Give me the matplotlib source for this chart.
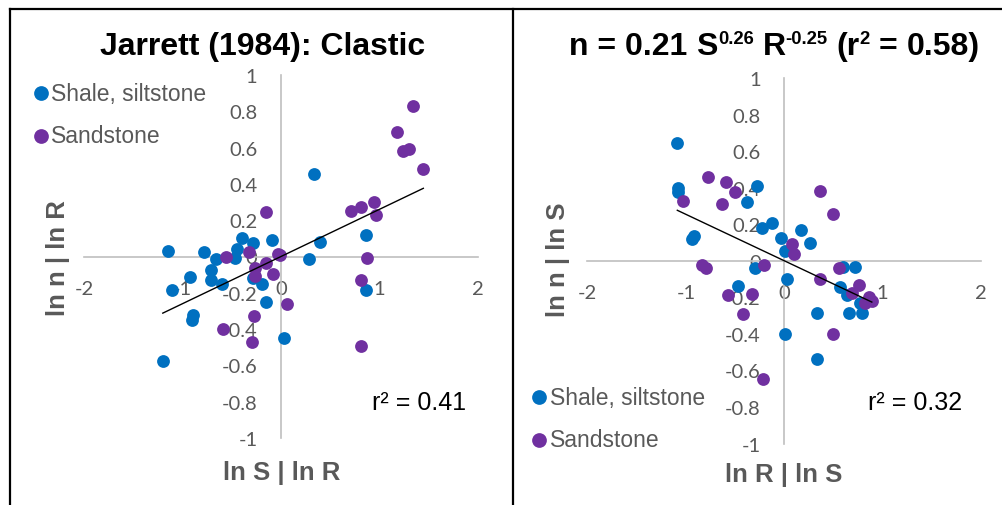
import numpy as np
import matplotlib.pyplot as plt
from matplotlib.lines import Line2D
from matplotlib.transforms import IdentityTransform

plt.rcParams['font.family'] = ['Liberation Sans', 'DejaVu Sans']

BLUE = '#0070C0'
PURPLE = '#7030A0'
GRAY = '#595959'

# left panel: ln n | ln R  vs  ln S | ln R
l_shale_x = [-1.15, -0.78, -0.66, -0.40, -0.28, -0.45, -0.47, -0.09, -0.71, -0.71,
             -0.60, -0.92, -1.11, -0.28, -0.19, -0.15, -0.89, -0.90, 0.28, 0.03,
             -1.20, 0.34, 0.40, 0.86, 0.86]
l_shale_y = [0.033, 0.024, -0.013, 0.103, 0.072, 0.042, -0.01, 0.09, -0.072, -0.132,
             -0.154, -0.114, -0.182, -0.121, -0.15, -0.248, -0.32, -0.35, -0.013, -0.448,
             -0.577, 0.455, 0.079, 0.116, -0.182]
l_sand_x = [1.34, 1.18, 1.235, 1.30, 1.445, 0.71, 0.81, 0.944, 0.96, 0.87,
            0.81, 0.81, 0.065, -0.01, -0.15, -0.56, -0.325, -0.03, -0.264, -0.152,
            -0.264, -0.078, -0.274, -0.59, -0.29]
l_sand_y = [0.828, 0.687, 0.584, 0.59, 0.483, 0.253, 0.272, 0.301, 0.231, -0.007,
            -0.127, -0.494, -0.264, 0.007, 0.244, -0.002, 0.024, 0.015, -0.062, -0.035,
            -0.105, -0.094, -0.329, -0.397, -0.472]
l_trend = (0.26, 0.0)

# right panel: ln n | ln S  vs  ln R | ln S
r_shale_x = [-1.087, -1.085, -1.085, -0.913, -0.934, -0.278, -0.38, -0.227, -0.125, -0.036,
             0.173, 0.265, 0.01, -0.295, 0.027, -0.475, 0.598, 0.723, 0.563, 0.638,
             0.774, 0.655, 0.79, 0.333, 0.01, 0.333]
r_shale_y = [0.644, 0.40, 0.377, 0.136, 0.118, 0.41, 0.324, 0.178, 0.204, 0.123,
             0.167, 0.096, 0.054, -0.037, -0.101, -0.138, -0.032, -0.032, -0.141, -0.189,
             -0.229, -0.284, -0.284, -0.288, -0.403, -0.54]
r_sand_x = [-0.78, -0.59, -0.499, -1.03, -0.634, -0.838, -0.80, 0.367, 0.496, 0.078,
            0.10, -0.21, 0.367, 0.553, 0.757, 0.69, 0.859, 0.89, 0.825, -0.567,
            -0.33, -0.415, 0.50, -0.217]
r_sand_y = [0.456, 0.432, 0.374, 0.328, 0.31, -0.025, -0.037, 0.383, 0.255, 0.09,
            0.036, -0.025, -0.101, -0.037, -0.134, -0.174, -0.2, -0.22, -0.23, -0.189,
            -0.184, -0.293, -0.403, -0.649]
r_trend = (-0.254, 0.0)

ticks_x = [-2, -1, 0, 1, 2]
ticks_y = [-1, -0.8, -0.6, -0.4, -0.2, 0, 0.2, 0.4, 0.6, 0.8, 1]

W, H = 1003, 506
fig = plt.figure(figsize=(W / 100, H / 100), dpi=100)
renderer = fig.canvas.get_renderer()


def px(x0, y0, x1, y1):
    # pixel box (top-left origin) -> figure fraction rect
    return [x0 / W, 1 - y1 / H, (x1 - x0) / W, (y1 - y0) / H]


def panel(rect, sx, sy, px_, py_, trend):
    ax = fig.add_axes(rect)
    ax.set_xlim(-2, 2)
    ax.set_ylim(-1, 1)
    for s in ['top', 'right']:
        ax.spines[s].set_visible(False)
    for s in ['left', 'bottom']:
        ax.spines[s].set_position('zero')
        ax.spines[s].set_color('#bfbfbf')
        ax.spines[s].set_linewidth(1.2)
    ax.set_xticks(ticks_x)
    ax.set_xticklabels([f'{t:g}' for t in ticks_x])
    ax.set_yticks(ticks_y)
    ax.set_yticklabels([f'{t:g}' for t in ticks_y])
    ax.tick_params(length=0, labelsize=14.5, labelcolor=GRAY)
    ax.tick_params(axis='x', pad=17)
    ax.tick_params(axis='y', pad=17)
    for lab in ax.get_xticklabels() + ax.get_yticklabels():
        lab.set_family(['Lato', 'DejaVu Sans'])
    ax.patch.set_visible(False)
    ax.scatter(sx, sy, s=85, color=BLUE, zorder=3, linewidths=0, label='Shale, siltstone')
    ax.scatter(px_, py_, s=85, color=PURPLE, zorder=3, linewidths=0, label='Sandstone')
    allx = np.array(sx + px_)
    xs = np.array([allx.min(), allx.max()])
    ax.plot(xs, trend[0] * xs + trend[1], color='black', lw=1.0, zorder=4)
    return ax


axl = panel(px(84, 76, 478, 439), l_shale_x, l_shale_y, l_sand_x, l_sand_y, l_trend)
axr = panel(px(587.5, 79, 981, 444.5), r_shale_x, r_shale_y, r_sand_x, r_sand_y, r_trend)

for ax, (lx, ly) in [(axl, (36, 82.5)), (axr, (534.5, 386.5))]:
    ax.legend(loc='upper left', bbox_to_anchor=(lx / W, 1 - ly / H),
              bbox_transform=fig.transFigure, frameon=False, fontsize=16.5,
              labelcolor=GRAY, handlelength=0.4, handletextpad=0.26,
              labelspacing=0.87, borderpad=0, borderaxespad=0, markerscale=1.15)


def rich_title(xc, ybase, runs, size):
    # runs of (text, superscript?) laid out left to right, centred on xc
    yb = H - ybase
    items = []
    x = 0.0
    space = size * 100 / 72 * 0.278
    for txt, sup, gap in runs:
        fs = size * 0.58 if sup else size
        dy = size * 100 / 72 * 0.33 if sup else 0
        x += space if gap else 0
        t = fig.text(x, yb + dy, txt, fontsize=fs, fontweight='bold',
                     ha='left', va='baseline', transform=IdentityTransform())
        w = t.get_window_extent(renderer).width
        items.append((t, x))
        x += w
    x0 = xc - x / 2
    for t, xi in items:
        t.set_x(x0 + xi)


rich_title(262.5, 55, [('Jarrett (1984): Clastic', False, False)], 23)
rich_title(774.5, 55, [('n = 0.21', False, False), ('S', False, True), ('0.26', True, False),
                       ('R', False, True), ('-0.25', True, False), ('(r', False, True),
                       ('2', True, False), ('=', False, True), ('0.58)', False, True)], 23)

fig.text(282 / W, 1 - 473 / H, 'ln S | ln R', ha='center', va='center',
         fontsize=18.5, fontweight='bold', color=GRAY)
fig.text(784 / W, 1 - 475 / H, 'ln R | ln S', ha='center', va='center',
         fontsize=18.5, fontweight='bold', color=GRAY)
fig.text(58 / W, 1 - 258 / H, 'ln n | ln R', ha='center', va='center', rotation=90,
         fontsize=18.5, fontweight='bold', color=GRAY)
fig.text(558 / W, 1 - 260 / H, 'ln n | ln S', ha='center', va='center', rotation=90,
         fontsize=18.5, fontweight='bold', color=GRAY)

fig.text(372 / W, 1 - 403 / H, 'r² = 0.41', ha='left', va='center', fontsize=18)
fig.text(868 / W, 1 - 403 / H, 'r² = 0.32', ha='left', va='center', fontsize=18)

# panel borders
for (x0, y0, x1, y1) in [(10, 9.5, 1002, 9.5), (10, 9.5, 10, 506), (512.5, 9.5, 512.5, 506)]:
    fig.add_artist(Line2D([x0 / W, x1 / W], [1 - y0 / H, 1 - y1 / H],
                          transform=fig.transFigure, color='black', lw=1.6))

fig.savefig('out.png', dpi=100)
